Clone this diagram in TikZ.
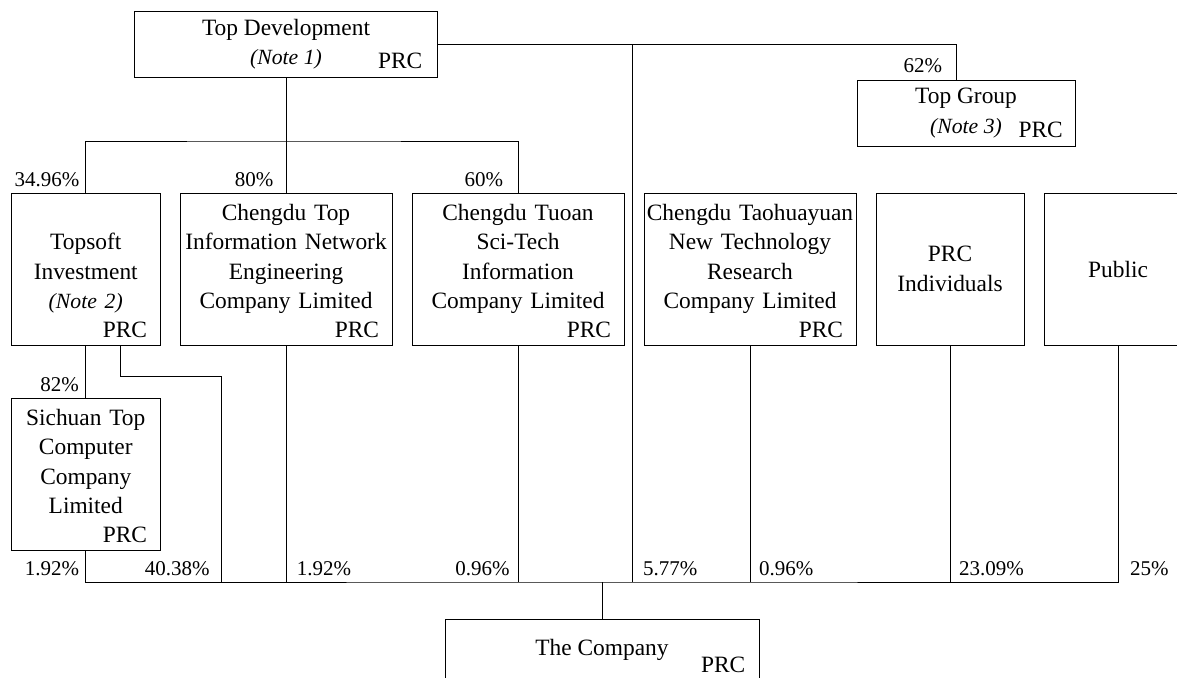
\documentclass[tikz,border=0pt]{standalone}
\usepackage{fontspec}
\setmainfont{Liberation Serif}
\usetikzlibrary{positioning,calc}
\newcommand{\namefont}{\fontsize{23.4}{29.3}\selectfont}
\newcommand{\pctfont}{\fontsize{21}{25}\selectfont}
\newcommand{\note}[1]{{\fontsize{21.7}{29.3}\selectfont\itshape #1}}
\newcommand{\prc}{\\\hfill PRC\rule{13pt}{0pt}}
\tikzset{
  holder/.style={draw, line width=0.9pt, inner sep=0pt, outer sep=0pt, align=center, font=\namefont},
  tallbox/.style={holder, minimum height=152pt, text width=#1},
  wide/.style={holder, minimum height=66pt, minimum width=#1},
  prc/.style={font=\namefont, inner sep=0pt, anchor=base east},
  share/.style={font=\pctfont, inner sep=0pt},
  link/.style={line width=0.9pt},
}
\begin{document}
\begin{tikzpicture}[x=1pt, y=-1pt]
\useasboundingbox (0,0) rectangle (1177,677);

\node[wide=303pt] (td) at (286,44.5) {Top Development\\\note{(Note 1)}};
\node[prc] (tdprc) at ($(td.south east)+(-15,-8.5)$) {PRC};
\node[wide=218pt] (tg) at (966,113) {Top Group\\\note{(Note 3)}};
\node[prc] (tgprc) at ($(tg.south east)+(-12,-9)$) {PRC};

\node[tallbox=148.5pt] (topsoft) at (85.75,269) {\strut\\Topsoft\\Investment\\\note{(Note 2)}\prc};
\node[tallbox=212pt, right=20pt of topsoft] (cdtop) {\strut Chengdu Top\\Information Network\\Engineering\\Company Limited\prc};
\node[tallbox=212pt, right=20pt of cdtop] (tuoan) {\strut Chengdu Tuoan\\Sci-Tech\\Information\\Company Limited\prc};
\node[tallbox=212pt, right=20pt of tuoan] (taohua) {\strut Chengdu Taohuayuan\\New Technology\\Research\\Company Limited\prc};
\node[tallbox=148pt, right=20pt of taohua] (prcind) {PRC\\Individuals};
\node[tallbox=148pt, right=20pt of prcind] (public) {Public};
\node[tallbox=148.5pt, below=53pt of topsoft] (sichuan) {\strut Sichuan Top\\Computer\\Company\\Limited\prc};

\coordinate (split) at (286,141);
\coordinate (tdbranch) at (632.8,44.5);
\coordinate (bus) at (602,582);
\coordinate (jog) at (221,376);

\node[wide=314pt, minimum height=60pt, below=37.5pt of bus] (company) {The Company};
\node[prc] (companyprc) at ($(company.north east)+(-13.5,52.7)$) {PRC};

\draw[link] (td.south) -- (cdtop.north);
\draw[link] (topsoft.north) |- (split) -| (tuoan.north);
\draw[link] (td.east) -| ([xshift=-10pt]tg.north);
\draw[link] (tdbranch) -- (tdbranch |- bus);
\draw[link] (topsoft.south) -- (sichuan.north);
\draw[link] ([xshift=34.25pt]topsoft.south) |- (jog) -- (jog |- bus);
\draw[link] (sichuan.south) |- (bus) -| (public.south);
\foreach \src in {cdtop, tuoan, taohua, prcind}
  \draw[link] (\src.south) -- (\src.south |- bus);
\draw[link] (bus) -- (company.north);

\node[share, anchor=base east] (s-topsoft) at (79.6,186.7) {34.96\%};
\node[share, anchor=base east] (s-cdtop) at (273.6,186.7) {80\%};
\node[share, anchor=base east] (s-tuoan) at (503.3,186.7) {60\%};
\node[share, anchor=base east] (s-tg) at (942.3,72.7) {62\%};
\node[share, anchor=base east] (s-sichuan) at (79,391.7) {82\%};

\node[share, anchor=base east] (c-sichuan) at (79.2,575) {1.92\%};
\node[share, anchor=base east] (c-topsoft) at (209.7,575) {40.38\%};
\node[share, anchor=base west] (c-cdtop) at (296.6,575) {1.92\%};
\node[share, anchor=base east] (c-tuoan) at (509.8,575) {0.96\%};
\node[share, anchor=base west] (c-td) at (643,575) {5.77\%};
\node[share, anchor=base west] (c-taohua) at (759,575) {0.96\%};
\node[share, anchor=base west] (c-prcind) at (959,575) {23.09\%};
\node[share, anchor=base west] (c-public) at (1130,575) {25\%};
\end{tikzpicture}
\end{document}
